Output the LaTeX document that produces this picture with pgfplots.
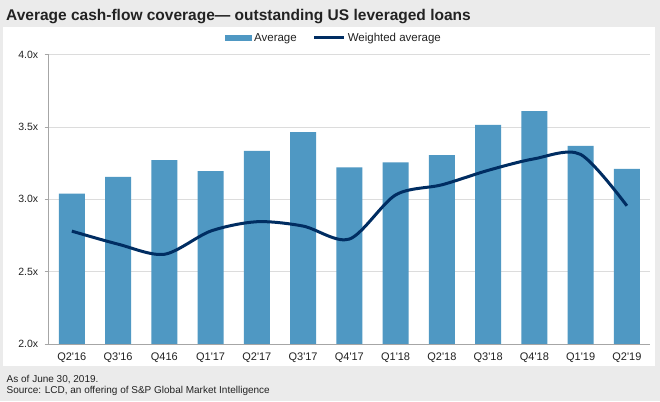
\documentclass[border=0pt]{standalone}
\usepackage{fontspec}
\setmainfont{Liberation Sans}
\usepackage{pgfplots}
\pgfplotsset{compat=1.18}

\definecolor{bggray}{HTML}{EBEBEB}
\definecolor{barblue}{HTML}{4F98C3}
\definecolor{navy}{HTML}{002D62}
\definecolor{axgray}{HTML}{A6A6A6}
\definecolor{gridgray}{HTML}{DCDCDC}
\definecolor{txt}{HTML}{222222}

\begin{document}
\begin{tikzpicture}
% background and white panel
\fill[bggray] (0pt,0pt) rectangle (660pt,401pt);
\fill[white] (3pt,35pt) rectangle (655pt,374pt);

\node[anchor=base west, inner sep=0pt, text=txt,
      font=\fontsize{15.5}{18}\selectfont\bfseries] at (6pt,380.5pt)
  {Average cash-flow coverage— outstanding US leveraged loans};
\node[anchor=base west, inner sep=0pt, text=txt,
      font=\fontsize{10}{12}\selectfont] at (6.5pt,19pt) {As of June 30, 2019.};
\node[anchor=base west, inner sep=0pt, text=txt,
      font=\fontsize{10}{12}\selectfont] at (6.5pt,8pt)
  {Source: LCD, an offering of S\&P Global Market Intelligence};

\begin{axis}[
    at={(48.7pt,57pt)}, anchor=south west,
    scale only axis,
    width=601.3pt, height=289.4pt,
    xmin=-0.5, xmax=12.5,
    ymin=2, ymax=4,
    ytick={2,2.5,3,3.5,4},
    yticklabel={\pgfmathprintnumber[fixed,fixed zerofill,precision=1]{\tick}x},
    /pgf/number format/assume math mode=true,
    xtick={0,...,12},
    xticklabels={Q2\textquotesingle16,Q3\textquotesingle16,Q416,Q1\textquotesingle17,Q2\textquotesingle17,Q3\textquotesingle17,Q4\textquotesingle17,Q1\textquotesingle18,Q2\textquotesingle18,Q3\textquotesingle18,Q4\textquotesingle18,Q1\textquotesingle19,Q2\textquotesingle19},
    axis x line*=bottom, axis y line*=left,
    axis line style={axgray, line width=0.8pt},
    ymajorgrids, grid style={gridgray, line width=0.8pt},
    tick align=outside, major tick length=4pt,
    xtick style={draw=none},
    ytick style={axgray, line width=0.8pt},
    tick label style={text=txt, font=\fontsize{10.5}{12}\selectfont},
    yticklabel style={xshift=-3pt},
    xticklabel style={yshift=-1pt, font=\fontsize{11}{13}\selectfont},
    legend style={at={(0.4745,1.0574)}, anchor=center, draw=none, fill=none,
        font=\fontsize{11.5}{13}\selectfont, text=txt,
        /tikz/every even column/.append style={column sep=14pt}},
    legend columns=-1,
]
\addplot[ybar, bar width=26pt, fill=barblue, draw=none,
    legend image code/.code={\fill[barblue] (0pt,-3pt) rectangle (27pt,3pt);}]
coordinates {
    (0,3.04) (1,3.155) (2,3.27) (3,3.195) (4,3.335) (5,3.465) (6,3.22)
    (7,3.255) (8,3.305) (9,3.515) (10,3.61) (11,3.37) (12,3.21)
};
\addlegendentry{Average}
\addplot[smooth, navy, line width=3pt, mark=none,
    legend image code/.code={\draw[navy, line width=3pt] (0pt,0pt) -- (30pt,0pt);}]
coordinates {
    (0,2.78) (1,2.69) (2,2.62) (3,2.78) (4,2.845) (5,2.815) (6,2.725)
    (7,3.03) (8,3.10) (9,3.20) (10,3.28) (11,3.31) (12,2.955)
};
\addlegendentry{Weighted average}
\end{axis}
\end{tikzpicture}
\end{document}
